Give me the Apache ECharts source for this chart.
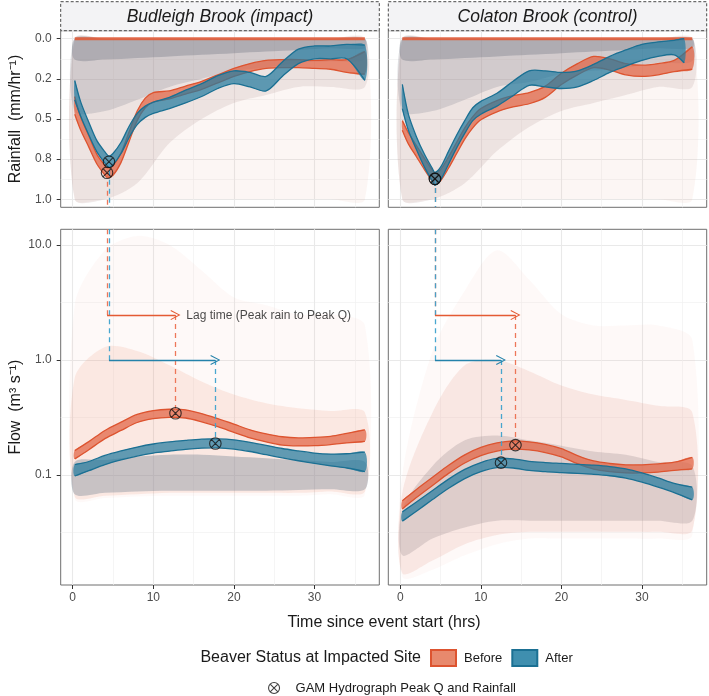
<!DOCTYPE html>
<html><head><meta charset="utf-8">
<script src="https://cdn.jsdelivr.net/npm/echarts@6/dist/echarts.min.js"></script>
<style>html,body{margin:0;padding:0;background:#fff}#c{width:709px;height:696px}</style>
</head><body><div id="c"></div>
<script>
// ---------------- DATA ----------------
const panelNames = ['Budleigh Brook (impact)', 'Colaton Brook (control)'];
const statusNames = ['Before', 'After'];
const xMajor = [0, 10, 20, 30];
const xMinor = [5, 15, 25, 35];
const rainMajor = [0, 0.25, 0.5, 0.75, 1];
const rainMajorLabels = ['0.0', '0.2', '0.5', '0.8', '1.0'];
const rainMinor = [0.125, 0.375, 0.625, 0.875];
const flowMajor = [0.1, 1, 10];
const flowMajorLabels = ['0.1', '1.0', '10.0'];
const flowMinor = [0.0316, 0.316, 3.16];

// Rainfall GAM ribbons (mm/hr), Budleigh
const rainT_BudBefore  = [0.25,1,2,3,4,4.3,5,6,7,8,9,10,12,14,16,18,20,22,24,26,28,30,32,34,36.25];
const rainLo_BudBefore = [0.36,0.49,0.605,0.72,0.79,0.805,0.79,0.71,0.58,0.45,0.37,0.335,0.325,0.295,0.265,0.225,0.185,0.155,0.135,0.13,0.13,0.135,0.13,0.13,0.08];
const rainHi_BudBefore = [0.47,0.57,0.675,0.78,0.85,0.865,0.85,0.77,0.64,0.51,0.43,0.395,0.375,0.345,0.315,0.275,0.235,0.205,0.185,0.18,0.18,0.185,0.19,0.21,0.22];
const rainT_BudAfter   = [0.25,1,2,3,4,4.5,5,6,7,8,9,10,12,14,16,18,20,22,24,26,28,30,32,34,36.25];
const rainLo_BudAfter  = [0.26,0.395,0.52,0.635,0.705,0.731,0.715,0.645,0.545,0.465,0.42,0.395,0.365,0.32,0.28,0.23,0.2,0.21,0.235,0.145,0.065,0.045,0.045,0.035,0.04];
const rainHi_BudAfter  = [0.38,0.485,0.6,0.705,0.775,0.801,0.785,0.715,0.615,0.535,0.49,0.465,0.435,0.4,0.36,0.31,0.28,0.3,0.325,0.235,0.155,0.125,0.125,0.125,0.26];
// Rainfall GAM ribbons, Colaton
const rainT_ColBefore  = [0.25,1,2,3,4,4.3,5,6,7,8,9,10,12,14,16,18,20,22,24,26,28,30,32,34,36.25];
const rainLo_ColBefore = [0.51,0.585,0.665,0.745,0.82,0.838,0.815,0.735,0.645,0.555,0.485,0.435,0.385,0.355,0.335,0.295,0.215,0.155,0.11,0.125,0.155,0.165,0.155,0.135,0.05];
const rainHi_ColBefore = [0.57,0.655,0.735,0.815,0.89,0.908,0.885,0.805,0.715,0.625,0.555,0.505,0.455,0.425,0.405,0.365,0.285,0.225,0.18,0.195,0.225,0.235,0.225,0.205,0.19];
const rainT_ColAfter   = [0.25,1,2,3,4,4.3,5,6,7,8,9,10,12,14,16,18,20,22,24,26,28,30,32,34,35.25];
const rainLo_ColAfter  = [0.285,0.47,0.61,0.72,0.81,0.833,0.8,0.7,0.6,0.51,0.43,0.39,0.34,0.265,0.2,0.2,0.21,0.2,0.16,0.11,0.07,0.035,0.02,0.01,0.0];
const rainHi_ColAfter  = [0.435,0.57,0.69,0.8,0.89,0.913,0.88,0.78,0.68,0.59,0.51,0.47,0.42,0.355,0.29,0.3,0.31,0.3,0.26,0.21,0.17,0.135,0.11,0.1,0.15];

// Flow GAM ribbons (m3/s)
const flowT = [0.25,2,4,6,8,10,12,14,16,18,20,22,24,26,28,30,32,34,36.25];
const flowLo_BudBefore = [0.138,0.166,0.207,0.244,0.286,0.309,0.317,0.313,0.29,0.263,0.235,0.21,0.194,0.182,0.179,0.18,0.184,0.19,0.196];
const flowHi_BudBefore = [0.163,0.195,0.244,0.288,0.336,0.363,0.373,0.369,0.342,0.309,0.277,0.247,0.228,0.215,0.21,0.212,0.217,0.23,0.247];
const flowLo_BudAfter  = [0.098,0.109,0.123,0.135,0.146,0.155,0.161,0.167,0.171,0.172,0.168,0.16,0.15,0.141,0.133,0.126,0.12,0.115,0.107];
const flowHi_BudAfter  = [0.123,0.131,0.148,0.162,0.175,0.186,0.194,0.2,0.205,0.206,0.202,0.192,0.181,0.17,0.162,0.155,0.152,0.153,0.158];
const flowLo_ColBefore = [0.0507,0.0636,0.0811,0.1032,0.1272,0.1475,0.1613,0.1677,0.165,0.1567,0.1438,0.1253,0.1124,0.1069,0.1041,0.1041,0.106,0.1097,0.113];
const flowHi_ColBefore = [0.0597,0.0749,0.0955,0.1215,0.1497,0.1736,0.1899,0.1975,0.1942,0.1845,0.1693,0.1476,0.1324,0.1259,0.1226,0.1226,0.1248,0.1291,0.1425];
const flowLo_ColAfter  = [0.0397,0.0484,0.0611,0.0766,0.0931,0.1068,0.1159,0.115,0.1095,0.1068,0.1049,0.1031,0.1013,0.0985,0.094,0.0867,0.0785,0.0703,0.0608];
const flowHi_ColAfter  = [0.0477,0.0581,0.0734,0.0921,0.1118,0.1282,0.1392,0.1381,0.1315,0.1282,0.126,0.1238,0.1217,0.1184,0.1129,0.1041,0.0943,0.0844,0.0783];

// Peaks [Before, After]
const rainPeakT_Bud = [4.26, 4.5],  rainPeakV_Bud = [0.835, 0.766];
const rainPeakT_Col = [4.3, 4.3],   rainPeakV_Col = [0.873, 0.873];
const flowPeakT_Bud = [12.75, 17.7], flowPeakQ_Bud = [0.344, 0.188];
const flowPeakT_Col = [14.3, 12.5],  flowPeakQ_Col = [0.182, 0.128];
const lagArrowQ = [2.46, 1.0];
const lagLabel = 'Lag time (Peak rain to Peak Q)';
const lagLabelPos = [14.1, 2.43];

// Density of raw observations (cloud of points / faint hydrographs), read as envelopes
const rainZeroT = [0.25, 36.25];
const layerT = [0.25,4,8,12,16,20,24,28,32,36.25];
const layerZero = [0,0,0,0,0,0,0,0,0,0];
const rainReachA_Bud = [1,1,1,1,1,1,1,1,1,1];
const rainReachB_Bud = [1,1,0.9,0.65,0.5,0.4,0.35,0.3,0.3,0.3];
const rainReachC_Bud = [0.45,0.45,0.38,0.3,0.25,0.2,0.18,0.15,0.14,0.13];
const rainReachD_Bud = [0.13,0.13,0.12,0.11,0.1,0.09,0.08,0.07,0.06,0.06];
const rainReachA_Col = [1,1,1,1,1,1,1,1,1,1];
const rainReachB_Col = [1,1,0.9,0.7,0.55,0.45,0.4,0.35,0.3,0.3];
const rainReachC_Col = [0.45,0.45,0.38,0.3,0.27,0.22,0.2,0.18,0.15,0.14];
const rainReachD_Col = [0.13,0.13,0.12,0.11,0.1,0.09,0.08,0.07,0.06,0.06];
const flowOuterLo_Bud = [0.062,0.063,0.065,0.066,0.066,0.066,0.066,0.066,0.068,0.068];
const flowOuterHi_Bud = [3,9,12,10,6,3.5,3,2.5,2.5,2];
const flowMidLo_Bud   = [0.065,0.066,0.068,0.07,0.07,0.07,0.07,0.07,0.072,0.072];
const flowMidHi_Bud   = [0.7,1.3,1.2,0.9,0.65,0.5,0.42,0.38,0.36,0.35];
const flowCoreLo_Bud  = [0.068,0.07,0.072,0.073,0.073,0.073,0.073,0.074,0.075,0.075];
const flowCoreHi_Bud  = [0.13,0.135,0.145,0.15,0.15,0.145,0.14,0.135,0.13,0.13];
const flowOuterLo_Col = [0.013,0.015,0.02,0.025,0.028,0.028,0.028,0.028,0.028,0.03];
const flowOuterHi_Col = [0.1,1.2,4,9,5,2.5,2,2,2,1.5];
const flowMidLo_Col   = [0.014,0.018,0.025,0.03,0.032,0.032,0.032,0.032,0.032,0.033];
const flowMidHi_Col   = [0.07,0.35,0.9,1.0,0.8,0.6,0.5,0.45,0.4,0.35];
const flowCoreLo_Col  = [0.02,0.028,0.035,0.04,0.04,0.04,0.04,0.04,0.04,0.04];
const flowCoreHi_Col  = [0.05,0.12,0.2,0.22,0.2,0.18,0.16,0.15,0.13,0.12];

// ---------------- STYLE / LAYOUT ----------------
const FONT = 'Liberation Sans';
const X_MIN = -1.49, X_MAX = 38.04;
const RAIN_MIN = -0.05, RAIN_MAX = 1.05;
const FLOW_LOG_MIN = -1.957, FLOW_LOG_MAX = 1.137;
const ORANGE_EDGE = '#DD5430', ORANGE_FILL = 'rgba(226,98,66,0.72)';
const BLUE_EDGE = '#1B7093', BLUE_FILL = 'rgba(38,124,160,0.72)';
const DASH_COL = ['rgba(236,112,80,0.95)', 'rgba(62,162,206,0.95)'];
const ARROW_COL = ['#E45A33', '#2482AA'];
const MARKER = 'path://M2,12 A10,10 0 1,1 22,12 A10,10 0 1,1 2,12 Z M4.93,4.93 L19.07,19.07 M4.93,19.07 L19.07,4.93';
const ARROW = 'path://M10,0 L20,18 L18.2,19 L10,4 L1.8,19 L0,18 Z';
const SMOOTH = 0.3;
const grids = [
  {left: 60.7, top: 30.7, width: 318.6, height: 176.6},
  {left: 388.3, top: 30.7, width: 318.4, height: 176.6},
  {left: 60.7, top: 229.3, width: 318.6, height: 355.7},
  {left: 388.3, top: 229.3, width: 318.4, height: 355.7}
];
const lg = v => Math.log10(v);
const id = v => v;

function nearestLabel(vals, labels, v) {
  let b = 0;
  vals.forEach((x, i) => { if (Math.abs(x - v) < Math.abs(vals[b] - v)) b = i; });
  return labels[b];
}

const xAxes = [], yAxes = [];
grids.forEach((g, gi) => {
  const bottom = gi >= 2, left = gi % 2 === 0, isRain = gi < 2;
  xAxes.push({type: 'value', gridIndex: gi, position: 'bottom', min: X_MIN, max: X_MAX,
    axisLine: {show: false, onZero: false},
    axisTick: {show: bottom, customValues: xMajor, length: 4, lineStyle: {color: '#333', width: 1}},
    axisLabel: {show: bottom, customValues: xMajor, color: '#4d4d4d', fontSize: 12, margin: 7, fontFamily: FONT, formatter: v => String(Math.round(v))},
    splitLine: {show: true, lineStyle: {color: '#e9e9e9', width: 1.1}}});
  xAxes.push({type: 'value', gridIndex: gi, position: 'bottom', min: X_MIN, max: X_MAX,
    axisLine: {show: false, onZero: false}, axisTick: {show: false, customValues: xMinor}, axisLabel: {show: false},
    splitLine: {show: true, lineStyle: {color: '#f1f1f1', width: 0.7}}});
  const yMaj = isRain ? rainMajor : flowMajor.map(lg);
  const yMin = isRain ? rainMinor : flowMinor.map(lg);
  const labs = isRain ? rainMajorLabels : flowMajorLabels;
  const base = {type: 'value', gridIndex: gi, position: 'left', inverse: isRain,
    min: isRain ? RAIN_MIN : FLOW_LOG_MIN, max: isRain ? RAIN_MAX : FLOW_LOG_MAX, axisLine: {show: false, onZero: false}};
  yAxes.push(Object.assign({}, base, {
    axisTick: {show: left, customValues: yMaj, length: 4, lineStyle: {color: '#333', width: 1}},
    axisLabel: {show: left, customValues: yMaj, color: '#4d4d4d', fontSize: 12, margin: 9, fontFamily: FONT,
      formatter: v => nearestLabel(yMaj, labs, v)},
    splitLine: {show: true, lineStyle: {color: '#e9e9e9', width: 1.1}}}));
  yAxes.push(Object.assign({}, base, {
    axisTick: {show: false, customValues: yMin}, axisLabel: {show: false},
    splitLine: {show: true, lineStyle: {color: '#f1f1f1', width: 0.7}}}));
});

const S = [];
// ribbon between lo and hi, drawn through the axes' scales (api.coord)
function band(gi, xs, lo, hi, tf, o) {
  S.push({type: 'custom', name: o.name || '', xAxisIndex: 2 * gi, yAxisIndex: 2 * gi, z: o.z, silent: true, clip: true,
    data: xs.map((x, i) => [x, tf(lo[i]), tf(hi[i])]),
    encode: {x: 0, y: [1, 2]},
    renderItem: (params, api) => {
      if (params.dataIndexInside !== 0) return null;
      const n = params.dataInsideLength, top = [], bot = [];
      for (let i = 0; i < n; i++) {
        top.push(api.coord([api.value(0, i), api.value(2, i)]));
        bot.push(api.coord([api.value(0, i), api.value(1, i)]));
      }
      const kids = [{type: 'polygon', shape: {points: top.concat(bot.slice().reverse()), smooth: SMOOTH},
        style: {fill: o.fill, stroke: null}}];
      if (o.edge) {
        kids.push({type: 'polyline', shape: {points: top, smooth: SMOOTH}, style: {stroke: o.edge, lineWidth: o.ew || 1.3, fill: null}});
        kids.push({type: 'polyline', shape: {points: bot, smooth: SMOOTH}, style: {stroke: o.edge, lineWidth: o.ew || 1.3, fill: null}});
      }
      return {type: 'group', children: kids};
    }});
}
function seg(gi, p1, p2, color, dashed, arrow, z) {
  S.push({type: 'lines', coordinateSystem: 'cartesian2d', xAxisIndex: 2 * gi, yAxisIndex: 2 * gi, z, silent: true,
    symbol: arrow ? ['none', ARROW] : ['none', 'none'], symbolSize: 10,
    lineStyle: {color, width: 1.3, type: dashed ? [5, 4] : 'solid', opacity: 1, curveness: 0},
    data: [{coords: [p1, p2]}]});
}
function markers(gi, ts, vs, tf) {
  S.push({type: 'scatter', name: 'GAM Hydrograph Peak Q and Rainfall', xAxisIndex: 2 * gi, yAxisIndex: 2 * gi,
    symbol: MARKER, symbolSize: 11.5, z: 6, silent: true,
    itemStyle: {color: 'rgba(0,0,0,0)', borderColor: '#111', borderWidth: 1.1},
    data: ts.map((t, i) => [t, tf(vs[i])])});
}

// Rainfall panels
[[0, rainReachA_Bud, rainReachB_Bud, rainReachC_Bud, rainReachD_Bud],
 [1, rainReachA_Col, rainReachB_Col, rainReachC_Col, rainReachD_Col]].forEach(([gi, A, B, C, D]) => {
  band(gi, layerT, layerZero, A, id, {fill: 'rgba(228,168,150,0.10)', z: 1});
  band(gi, layerT, layerZero, B, id, {fill: 'rgba(185,160,158,0.22)', z: 1});
  band(gi, layerT, layerZero, C, id, {fill: 'rgba(140,140,150,0.28)', z: 1});
  band(gi, layerT, layerZero, D, id, {fill: 'rgba(110,115,130,0.35)', z: 1});
  S.push({type: 'line', xAxisIndex: 2 * gi, yAxisIndex: 2 * gi, data: rainZeroT.map(t => [t, 0]), symbol: 'none',
    silent: true, z: 2, lineStyle: {color: 'rgba(224,92,56,0.9)', width: 3.2}});
});
band(0, rainT_BudBefore, rainLo_BudBefore, rainHi_BudBefore, id, {name: 'Before', edge: ORANGE_EDGE, fill: ORANGE_FILL, z: 3});
band(0, rainT_BudAfter, rainLo_BudAfter, rainHi_BudAfter, id, {name: 'After', edge: BLUE_EDGE, fill: BLUE_FILL, z: 3});
band(1, rainT_ColBefore, rainLo_ColBefore, rainHi_ColBefore, id, {name: 'Before', edge: ORANGE_EDGE, fill: ORANGE_FILL, z: 3});
band(1, rainT_ColAfter, rainLo_ColAfter, rainHi_ColAfter, id, {name: 'After', edge: BLUE_EDGE, fill: BLUE_FILL, z: 3});

// Flow panels
band(2, layerT, flowOuterLo_Bud, flowOuterHi_Bud, lg, {fill: 'rgba(242,160,140,0.06)', z: 1});
band(2, layerT, flowMidLo_Bud, flowMidHi_Bud, lg, {fill: 'rgba(236,140,115,0.16)', z: 1});
band(2, layerT, flowCoreLo_Bud, flowCoreHi_Bud, lg, {fill: 'rgba(128,140,155,0.42)', z: 1});
band(3, layerT, flowOuterLo_Col, flowOuterHi_Col, lg, {fill: 'rgba(242,160,140,0.06)', z: 1});
band(3, layerT, flowMidLo_Col, flowMidHi_Col, lg, {fill: 'rgba(225,145,125,0.17)', z: 1});
band(3, layerT, flowCoreLo_Col, flowCoreHi_Col, lg, {fill: 'rgba(160,145,150,0.30)', z: 1});
band(2, flowT, flowLo_BudBefore, flowHi_BudBefore, lg, {name: 'Before', edge: ORANGE_EDGE, fill: ORANGE_FILL, z: 3});
band(2, flowT, flowLo_BudAfter, flowHi_BudAfter, lg, {name: 'After', edge: BLUE_EDGE, fill: BLUE_FILL, z: 3});
band(3, flowT, flowLo_ColBefore, flowHi_ColBefore, lg, {name: 'Before', edge: ORANGE_EDGE, fill: ORANGE_FILL, z: 3});
band(3, flowT, flowLo_ColAfter, flowHi_ColAfter, lg, {name: 'After', edge: BLUE_EDGE, fill: BLUE_FILL, z: 3});

// Lag lines, arrows, markers
[[0, 2, rainPeakT_Bud, rainPeakV_Bud, flowPeakT_Bud, flowPeakQ_Bud],
 [1, 3, rainPeakT_Col, rainPeakV_Col, flowPeakT_Col, flowPeakQ_Col]].forEach(([rg, fg, rT, rV, fT, fQ]) => {
  [0, 1].forEach(k => {
    seg(rg, [rT[k], rV[k]], [rT[k], RAIN_MAX], DASH_COL[k], true, false, 4);
    seg(fg, [rT[k], FLOW_LOG_MAX], [rT[k], lg(lagArrowQ[k])], DASH_COL[k], true, false, 4);
    seg(fg, [rT[k], lg(lagArrowQ[k])], [fT[k], lg(lagArrowQ[k])], ARROW_COL[k], false, true, 5);
    seg(fg, [fT[k], lg(lagArrowQ[k])], [fT[k], lg(fQ[k])], DASH_COL[k], true, false, 4);
  });
  markers(rg, rT, rV, id);
  markers(fg, fT, fQ, lg);
});
S.push({type: 'scatter', xAxisIndex: 4, yAxisIndex: 4, symbolSize: 0, silent: true, z: 6,
  data: [[lagLabelPos[0], lg(lagLabelPos[1])]],
  label: {show: true, position: 'right', distance: 0, formatter: lagLabel, fontSize: 12, color: '#1a1a1a', fontFamily: FONT}});

const txt = (x, y, text, size, extra) => Object.assign({type: 'text', x, y, silent: true,
  style: Object.assign({text, fontSize: size, fontFamily: FONT, fill: '#1a1a1a', align: 'center', verticalAlign: 'middle'}, (extra && extra.style) || {})},
  extra && extra.rotation ? {rotation: extra.rotation} : {});

const option = {
  animation: false,
  textStyle: {fontFamily: FONT},
  grid: grids.map(g => Object.assign({show: true, borderColor: '#6e6e6e', borderWidth: 1, backgroundColor: 'transparent', containLabel: false, outerBoundsMode: 'none'}, g)),
  xAxis: xAxes, yAxis: yAxes,
  legend: [
    {left: 430, top: 649, padding: 0, itemWidth: 25, itemHeight: 16, itemGap: 9, selectedMode: false,
     data: [{name: 'Before', icon: 'rect', itemStyle: {color: '#E8896D', borderColor: ORANGE_EDGE, borderWidth: 2}},
            {name: 'After', icon: 'rect', itemStyle: {color: '#3F8FAF', borderColor: BLUE_EDGE, borderWidth: 2}}],
     textStyle: {fontSize: 13, color: '#1a1a1a', fontFamily: FONT, padding: [0, 0, 0, 3]}},
    {left: 268, top: 681.5, padding: 0, itemWidth: 11, itemHeight: 11, selectedMode: false,
     data: [{name: 'GAM Hydrograph Peak Q and Rainfall', icon: MARKER, itemStyle: {color: 'rgba(0,0,0,0)', borderColor: '#111', borderWidth: 1.1}}],
     textStyle: {fontSize: 13, color: '#1a1a1a', fontFamily: FONT, padding: [0, 0, 0, 11]}}
  ],
  graphic: [
    {type: 'rect', silent: true, shape: {x: 60.7, y: 1.7, width: 318.6, height: 29}, style: {fill: '#F3F3F5', stroke: '#4a4a4a', lineWidth: 1, lineDash: [3, 2]}},
    {type: 'rect', silent: true, shape: {x: 388.3, y: 1.7, width: 318.4, height: 29}, style: {fill: '#F3F3F5', stroke: '#4a4a4a', lineWidth: 1, lineDash: [3, 2]}},
    txt(220, 17, panelNames[0], 17.5, {style: {fontStyle: 'italic'}}),
    txt(547.5, 17, panelNames[1], 17.5, {style: {fontStyle: 'italic'}}),
    txt(16, 119, 'Rainfall  (mm/hr\u207B\u00B9)', 16, {rotation: Math.PI / 2}),
    txt(16, 407, 'Flow  (m\u00B3 s\u207B\u00B9)', 16, {rotation: Math.PI / 2}),
    txt(384, 623, 'Time since event start (hrs)', 16),
    txt(421, 657.5, 'Beaver Status at Impacted Site', 16, {style: {align: 'right'}})
  ],
  series: S
};
const chart = echarts.init(document.getElementById('c'), null, {renderer: 'canvas', width: 709, height: 696});
chart.setOption(option);
</script></body></html>
